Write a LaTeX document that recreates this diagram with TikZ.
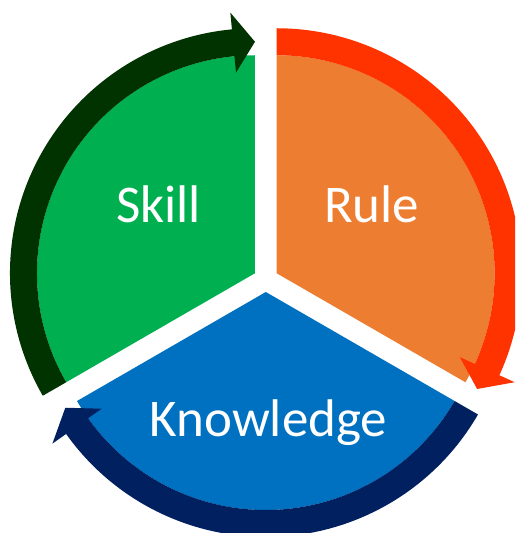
\documentclass[tikz,border=0pt]{standalone}
\usepackage{fontspec}
\setmainfont{Carlito}
\definecolor{skillgreen}{HTML}{00B050}
\definecolor{skilldark}{HTML}{003300}
\definecolor{ruleorange}{HTML}{ED7D31}
\definecolor{rulered}{HTML}{FF3300}
\definecolor{knowblue}{HTML}{0070C0}
\definecolor{knownavy}{HTML}{002060}
\newcommand\rin{218}
\newcommand\rout{245}
\newcommand\rhin{201.5}
\newcommand\rhout{261.8}
\newcommand\rmid{231.5}
% #1 centre, #2 tail angle, #3 head back angle, #4 tip angle, #5 colour
\newcommand\cyclearrow[5]{%
  \fill[#5] ([shift={(#2:\rin)}]#1) -- ([shift={(#2:\rout)}]#1)
    arc[start angle=#2, end angle=#3, radius=\rout]
    -- ([shift={(#3:\rhout)}]#1) -- ([shift={(#4:\rmid)}]#1)
    -- ([shift={(#3:\rhin)}]#1) -- ([shift={(#3:\rin)}]#1)
    arc[start angle=#3, end angle=#2, radius=\rin] -- cycle;}
\begin{document}
\begin{tikzpicture}[x=1pt,y=1pt,
  lbl/.style={text=white, font=\fontsize{53}{53}\selectfont, anchor=base, inner sep=0pt}]
\useasboundingbox (0,0) rectangle (515,533);
\clip (0,0) rectangle (515,533);
\coordinate (G) at (254.97,259.75);
\coordinate (O) at (276.63,259.75);
\coordinate (B) at (265.8,241);
% sectors
\fill[skillgreen] (G) -- ([shift={(90:\rin)}]G) arc[start angle=90, end angle=210, radius=\rin] -- cycle;
\fill[ruleorange] (O) -- ([shift={(90:\rin)}]O) arc[start angle=90, end angle=-30, radius=\rin] -- cycle;
\fill[knowblue] (B) -- ([shift={(-30:\rin)}]B) arc[start angle=-30, end angle=-150, radius=\rin] -- cycle;
% circular arrows
\cyclearrow{G}{210}{95.4}{90}{skilldark}
\cyclearrow{O}{90}{-24.6}{-30}{rulered}
\cyclearrow{B}{-30}{-144.6}{-150}{knownavy}
% labels
\node[lbl] (skill) at (158.5,310.5) {Skill};
\node[lbl] (rule) at (371.7,310.5) {Rule};
\node[lbl] (knowledge) at (268.5,96) {Knowledge};
\end{tikzpicture}
\end{document}
